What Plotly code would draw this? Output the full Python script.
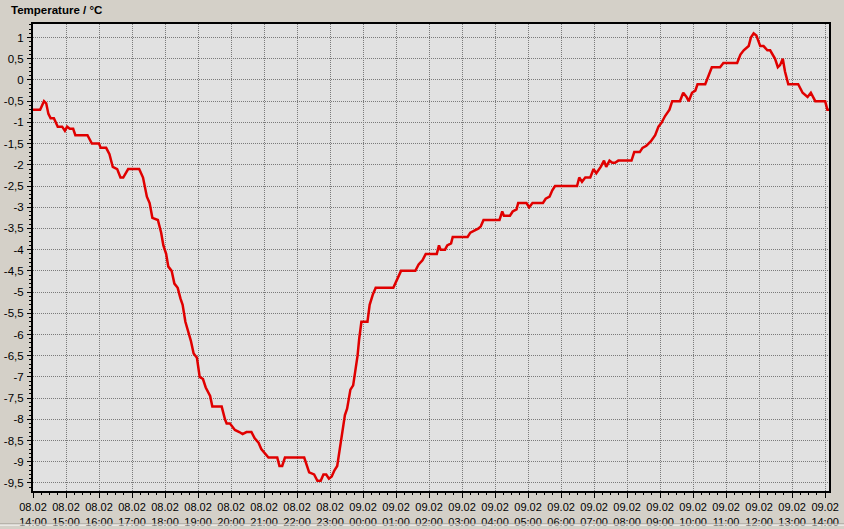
import pandas as pd
import plotly.graph_objects as go

YEAR = "2010"

times = [
    "08.02 14:00", "08.02 14:13", "08.02 14:20", "08.02 14:24", "08.02 14:28", "08.02 14:32",
    "08.02 14:38", "08.02 14:43", "08.02 14:45", "08.02 14:53", "08.02 14:58", "08.02 15:02",
    "08.02 15:07", "08.02 15:13", "08.02 15:17", "08.02 15:39", "08.02 15:47", "08.02 16:00",
    "08.02 16:03", "08.02 16:13", "08.02 16:19", "08.02 16:25", "08.02 16:33", "08.02 16:39",
    "08.02 16:44", "08.02 16:53", "08.02 17:13", "08.02 17:20", "08.02 17:23", "08.02 17:27",
    "08.02 17:32", "08.02 17:37", "08.02 17:47", "08.02 17:53", "08.02 17:57", "08.02 18:02",
    "08.02 18:06", "08.02 18:12", "08.02 18:17", "08.02 18:23", "08.02 18:28", "08.02 18:32",
    "08.02 18:37", "08.02 18:43", "08.02 18:47", "08.02 18:52", "08.02 18:58", "08.02 19:03",
    "08.02 19:09", "08.02 19:14", "08.02 19:22", "08.02 19:26", "08.02 19:43", "08.02 19:49",
    "08.02 19:52", "08.02 19:58", "08.02 20:07", "08.02 20:15", "08.02 20:21", "08.02 20:28",
    "08.02 20:37", "08.02 20:43", "08.02 20:50", "08.02 20:55", "08.02 21:01", "08.02 21:08",
    "08.02 21:24", "08.02 21:28", "08.02 21:33", "08.02 21:38", "08.02 22:13", "08.02 22:18",
    "08.02 22:22", "08.02 22:31", "08.02 22:37", "08.02 22:43", "08.02 22:48", "08.02 22:53",
    "08.02 22:58", "08.02 23:03", "08.02 23:08", "08.02 23:13", "08.02 23:17", "08.02 23:20",
    "08.02 23:24", "08.02 23:27", "08.02 23:31", "08.02 23:37", "08.02 23:42", "08.02 23:47",
    "08.02 23:50", "08.02 23:53", "08.02 23:57",
    "09.02 00:08", "09.02 00:12", "09.02 00:18", "09.02 00:23", "09.02 00:55", "09.02 01:00",
    "09.02 01:05", "09.02 01:09", "09.02 01:35", "09.02 01:41", "09.02 01:48", "09.02 01:54",
    "09.02 02:14", "09.02 02:18", "09.02 02:21", "09.02 02:29", "09.02 02:33", "09.02 02:40",
    "09.02 02:43", "09.02 03:10", "09.02 03:15", "09.02 03:24", "09.02 03:30", "09.02 03:34",
    "09.02 03:39", "09.02 04:08", "09.02 04:13", "09.02 04:16", "09.02 04:27", "09.02 04:32",
    "09.02 04:39", "09.02 04:42", "09.02 04:57", "09.02 05:02", "09.02 05:08", "09.02 05:27",
    "09.02 05:32", "09.02 05:39", "09.02 05:44", "09.02 05:49", "09.02 06:29", "09.02 06:33",
    "09.02 06:38", "09.02 06:44", "09.02 06:53", "09.02 06:59", "09.02 07:04", "09.02 07:12",
    "09.02 07:18", "09.02 07:22", "09.02 07:28", "09.02 07:33", "09.02 07:38", "09.02 07:44",
    "09.02 08:08", "09.02 08:13", "09.02 08:23", "09.02 08:28", "09.02 08:35", "09.02 08:43",
    "09.02 08:51", "09.02 08:57", "09.02 09:03", "09.02 09:09", "09.02 09:17", "09.02 09:22",
    "09.02 09:36", "09.02 09:42", "09.02 09:48", "09.02 09:52", "09.02 09:58", "09.02 10:04",
    "09.02 10:08", "09.02 10:22", "09.02 10:28", "09.02 10:34", "09.02 10:49", "09.02 10:55",
    "09.02 11:20", "09.02 11:26", "09.02 11:32", "09.02 11:41", "09.02 11:45", "09.02 11:50",
    "09.02 11:55", "09.02 12:02", "09.02 12:08", "09.02 12:15", "09.02 12:20", "09.02 12:29",
    "09.02 12:34", "09.02 12:38", "09.02 12:43", "09.02 12:47", "09.02 12:53", "09.02 13:11",
    "09.02 13:19", "09.02 13:28", "09.02 13:34", "09.02 13:42", "09.02 14:00", "09.02 14:04",
    "09.02 14:08",
]

temperature = [
    -0.7, -0.7, -0.5, -0.55, -0.8, -0.9,
    -0.9, -1.05, -1.1, -1.1, -1.2, -1.1,
    -1.15, -1.15, -1.3, -1.3, -1.5, -1.5,
    -1.6, -1.6, -1.75, -2.05, -2.1, -2.3,
    -2.3, -2.1, -2.1, -2.3, -2.5, -2.75,
    -2.9, -3.25, -3.3, -3.6, -3.9, -4.1,
    -4.4, -4.5, -4.8, -4.9, -5.15, -5.3,
    -5.7, -5.95, -6.15, -6.45, -6.55, -7.0,
    -7.05, -7.25, -7.45, -7.7, -7.7, -8.0,
    -8.1, -8.1, -8.25, -8.3, -8.35, -8.3,
    -8.3, -8.45, -8.55, -8.7, -8.8, -8.9,
    -8.9, -9.1, -9.1, -8.9, -8.9, -9.1,
    -9.25, -9.3, -9.45, -9.45, -9.3, -9.3,
    -9.4, -9.35, -9.2, -9.1, -8.75, -8.5,
    -8.25, -7.9, -7.75, -7.3, -7.2, -6.8,
    -6.5, -6.1, -5.7,
    -5.7, -5.3, -5.05, -4.9, -4.9, -4.75,
    -4.6, -4.5, -4.5, -4.35, -4.25, -4.1,
    -4.1, -3.9, -4.0, -4.0, -3.9, -3.85,
    -3.7, -3.7, -3.6, -3.55, -3.5, -3.45,
    -3.3, -3.3, -3.1, -3.2, -3.2, -3.1,
    -3.05, -2.9, -2.9, -3.0, -2.9, -2.9,
    -2.8, -2.75, -2.6, -2.5, -2.5, -2.3,
    -2.4, -2.3, -2.3, -2.1, -2.2, -2.05,
    -1.9, -2.05, -1.9, -1.95, -1.95, -1.9,
    -1.9, -1.7, -1.7, -1.6, -1.55, -1.45,
    -1.3, -1.1, -1.0, -0.85, -0.7, -0.5,
    -0.5, -0.3, -0.4, -0.5, -0.3, -0.25,
    -0.1, -0.1, 0.1, 0.3, 0.3, 0.4,
    0.4, 0.6, 0.7, 0.8, 1.0, 1.1,
    1.05, 0.8, 0.8, 0.7, 0.7, 0.5,
    0.3, 0.35, 0.5, 0.2, -0.1, -0.1,
    -0.3, -0.4, -0.3, -0.5, -0.5, -0.7,
    -0.7,
]

x_tick_times = [
    "08.02 14:00", "08.02 15:00", "08.02 16:00", "08.02 17:00", "08.02 18:00", "08.02 19:00",
    "08.02 20:00", "08.02 21:00", "08.02 22:00", "08.02 23:00", "09.02 00:00", "09.02 01:00",
    "09.02 02:00", "09.02 03:00", "09.02 04:00", "09.02 05:00", "09.02 06:00", "09.02 07:00",
    "09.02 08:00", "09.02 09:00", "09.02 10:00", "09.02 11:00", "09.02 12:00", "09.02 13:00",
    "09.02 14:00",
]
x_tick_labels = [t.replace(" ", "<br>") for t in x_tick_times]

y_tick_values = [1.0, 0.5, 0.0, -0.5, -1.0, -1.5, -2.0, -2.5, -3.0, -3.5, -4.0, -4.5, -5.0,
                 -5.5, -6.0, -6.5, -7.0, -7.5, -8.0, -8.5, -9.0, -9.5]
y_tick_labels = ["1", "0,5", "0", "-0,5", "-1", "-1,5", "-2", "-2,5", "-3", "-3,5", "-4", "-4,5",
                 "-5", "-5,5", "-6", "-6,5", "-7", "-7,5", "-8", "-8,5", "-9", "-9,5"]

x_range = ["08.02 14:00", "09.02 14:07"]
y_range = [-9.69, 1.32]


def to_dt(s):
    return pd.to_datetime(s + " " + YEAR, format="%d.%m %H:%M %Y")


xs = [to_dt(t) for t in times]

fig = go.Figure()
fig.add_trace(go.Scatter(
    x=xs, y=temperature, mode="lines",
    line=dict(color="#e00000", width=2.5),
    showlegend=False, hoverinfo="skip",
))

font_family = "Liberation Sans, Arial, sans-serif"

fig.update_layout(
    width=844, height=529,
    margin=dict(l=33, r=15, t=24, b=38, autoexpand=False),
    paper_bgcolor="#d4d0c8",
    plot_bgcolor="#e1e1e1",
    font=dict(family=font_family, size=11, color="#000000"),
    showlegend=False,
    xaxis=dict(
        type="date",
        automargin=False,
        range=[to_dt(x_range[0]), to_dt(x_range[1])],
        tickmode="array",
        tickvals=[to_dt(t) for t in x_tick_times],
        ticktext=x_tick_labels,
        ticks="outside", ticklen=5, tickcolor="#000000", tickwidth=1,
        showline=True, linecolor="#000000", linewidth=2, mirror=True,
        showgrid=True, gridcolor="#7a7a7a", gridwidth=1, griddash="1px,1px",
        zeroline=False,
        minor=dict(ticks="outside", ticklen=2, tickcolor="#000000",
                   dtick=15 * 60 * 1000, showgrid=False),
        tickfont=dict(family=font_family, size=11, color="#000000"),
        fixedrange=True,
    ),
    yaxis=dict(
        automargin=False,
        range=y_range,
        tickmode="array",
        tickvals=y_tick_values,
        ticktext=y_tick_labels,
        ticks="outside", ticklen=4, tickcolor="#000000", tickwidth=1,
        showline=True, linecolor="#000000", linewidth=2, mirror=True,
        showgrid=True, gridcolor="#7a7a7a", gridwidth=1, griddash="1px,1px",
        zeroline=False,
        minor=dict(ticks="outside", ticklen=2, tickcolor="#000000",
                   dtick=0.1, tick0=0, showgrid=False),
        tickfont=dict(family=font_family, size=11.5, color="#000000"),
        ticklabelstandoff=1,
        fixedrange=True,
    ),
    annotations=[dict(
        text="<b>Temperature / °C</b>",
        xref="paper", yref="paper",
        x=-24 / 796, y=1 + 14 / 467,
        xanchor="left", yanchor="middle",
        showarrow=False,
        font=dict(family=font_family, size=11.5, color="#000000"),
    )],
    shapes=[
        dict(type="line", xref="paper", yref="paper",
             x0=-33 / 796, x1=(844 - 33) / 796,
             y0=-(524 - 491) / 467, y1=-(524 - 491) / 467,
             line=dict(color="#9a978f", width=1)),
        dict(type="line", xref="paper", yref="paper",
             x0=-33 / 796, x1=(844 - 33) / 796,
             y0=-(525 - 491) / 467, y1=-(525 - 491) / 467,
             line=dict(color="#ffffff", width=1)),
    ],
)

fig.write_html(
    "out.html",
    config={"displayModeBar": False},
    post_script="document.body.style.margin='0';document.body.style.padding='0';"
                "document.body.style.background='#d4d0c8';",
)
